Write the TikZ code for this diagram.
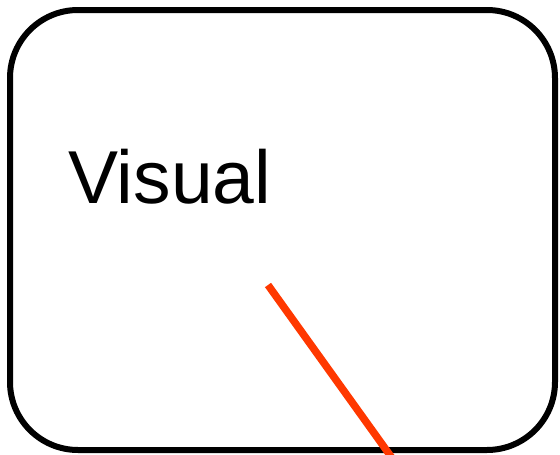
\documentclass[tikz,border=0pt]{standalone}
\usepackage{fontspec}
\setmainfont{Liberation Sans}
\usepackage{xcolor}
\usepackage{tikz}
\usetikzlibrary{positioning,calc}
\definecolor{panelred}{RGB}{255,56,0}
\tikzset{
  panel/.style = {draw=black, line width=6pt, rounded corners=68pt},
  lbl/.style   = {inner sep=0pt, anchor=base west, font=\fontsize{75}{80}\selectfont},
  ray/.style   = {draw=panelred, line width=7.5pt},
}

\begin{document}
\begin{tikzpicture}[x=1pt,y=-1pt]
  \useasboundingbox (0,0) rectangle (560,455);
  \draw[panel] (10,10) rectangle (555,450);
  \node[lbl] (label) at (68,203) {Visual};
  \coordinate (rayA) at (268,285);
  \coordinate (rayB) at (392,458);
  \draw[ray] (rayA) -- (rayB);
\end{tikzpicture}
\end{document}
